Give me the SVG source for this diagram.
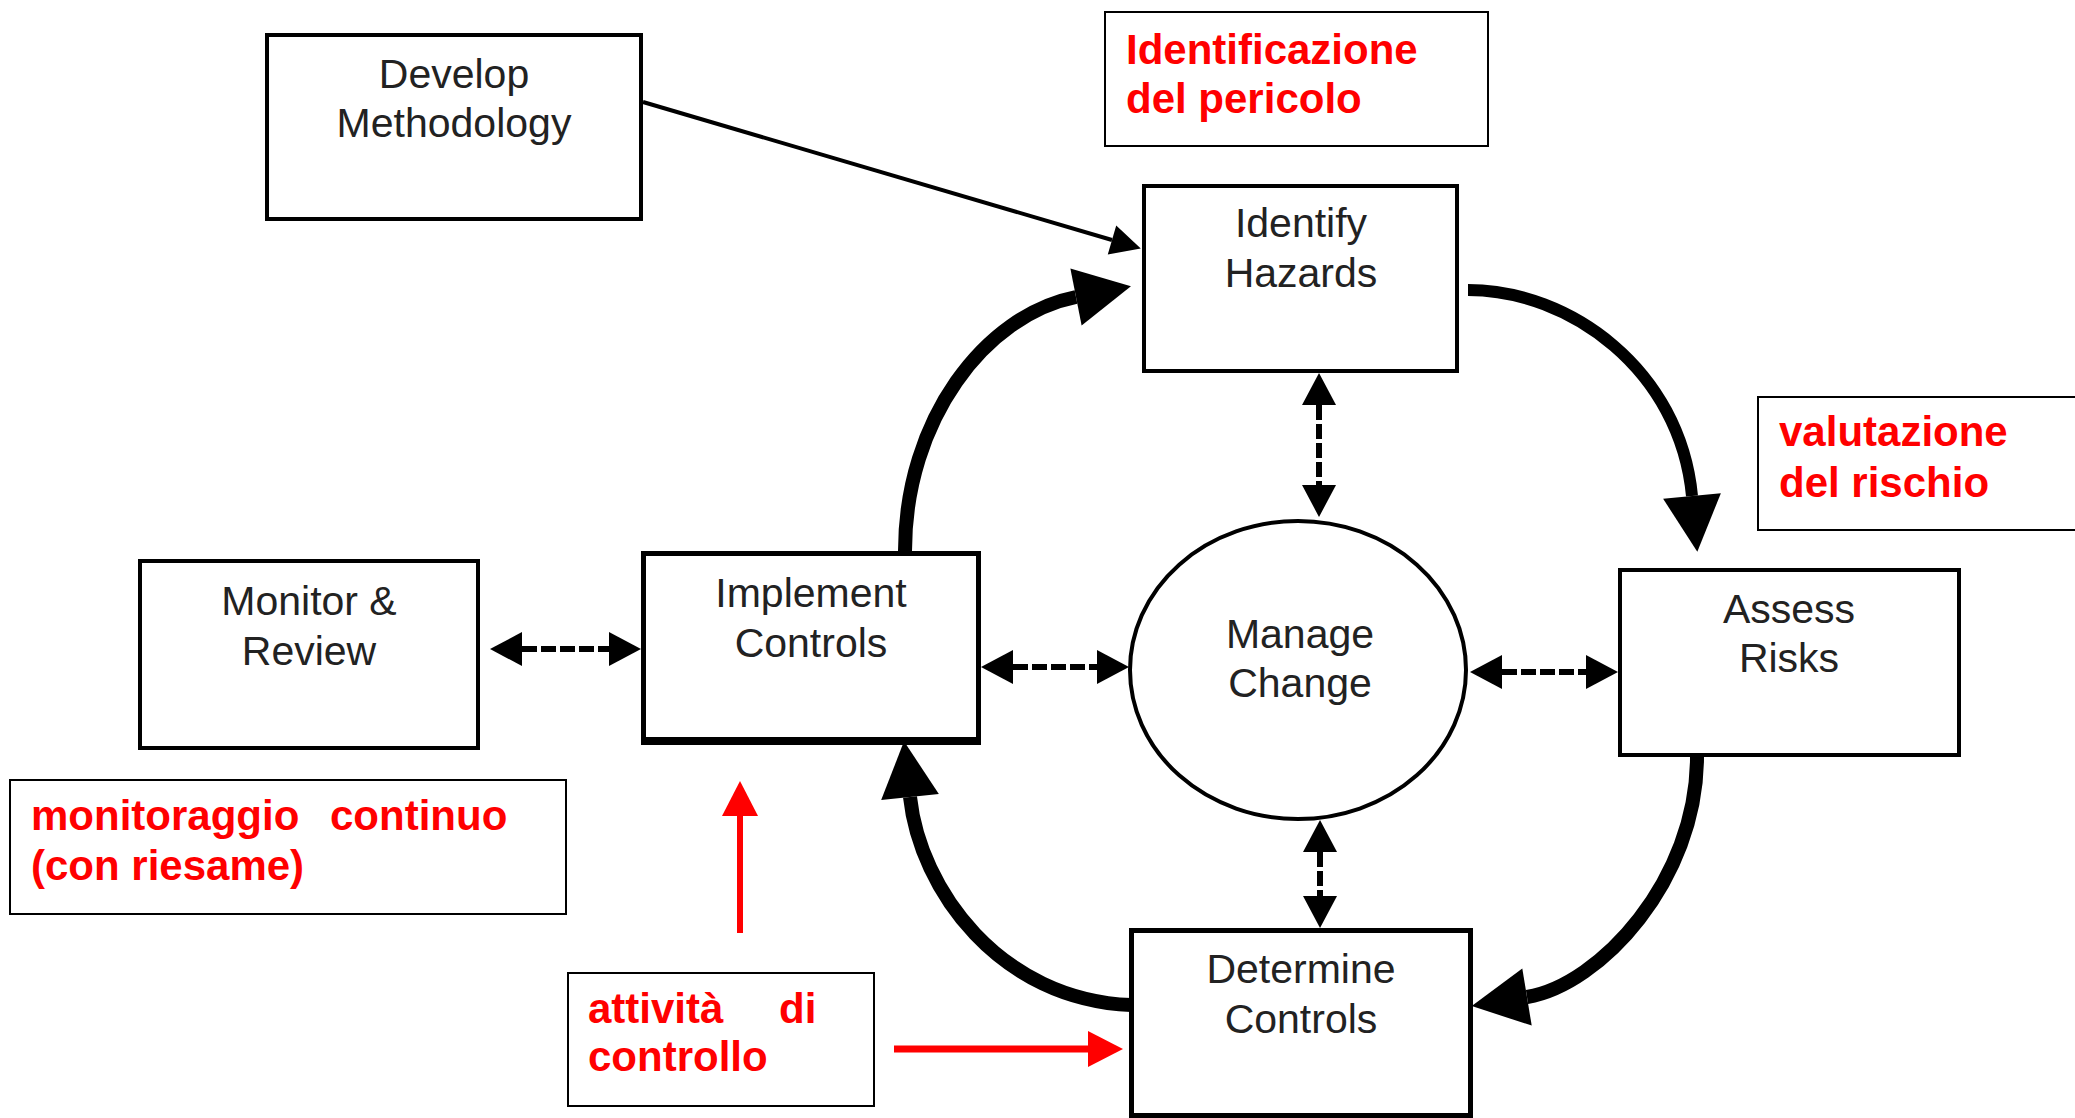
<svg xmlns="http://www.w3.org/2000/svg" width="2075" height="1118" viewBox="0 0 2075 1118">
  <style>
    .box { fill: #ffffff; stroke: #000000; stroke-width: 4; }
    .note { fill: #ffffff; stroke: #000000; stroke-width: 2; }
    .lbl { font-family: "Liberation Sans", Arial, sans-serif; font-size: 41px; fill: #222222; text-anchor: middle; }
    .red { font-family: "Liberation Sans", Arial, sans-serif; font-size: 42px; font-weight: bold; fill: #ff0000; }
    .flow { fill: none; stroke: #000000; stroke-width: 14; }
    .dash { fill: none; stroke: #000000; stroke-width: 6; stroke-dasharray: 15 4; }
    .thin { fill: none; stroke: #000000; stroke-width: 4; }
    .redline { fill: none; stroke: #ff0000; stroke-width: 7; }
  </style>
  <defs>
    <marker id="bigHead" markerUnits="userSpaceOnUse" viewBox="0 0 56 58" markerWidth="56" markerHeight="58" refX="0" refY="29" orient="auto" overflow="visible">
      <path d="M0,0 L56,29 L0,58 Z" fill="#000000"/>
    </marker>
    <marker id="dashHead" markerUnits="userSpaceOnUse" viewBox="0 0 32 34" markerWidth="32" markerHeight="34" refX="0" refY="17" orient="auto-start-reverse" overflow="visible">
      <path d="M0,0 L32,17 L0,34 Z" fill="#000000"/>
    </marker>
    <marker id="thinHead" markerUnits="userSpaceOnUse" viewBox="0 0 30 30" markerWidth="30" markerHeight="30" refX="0" refY="15" orient="auto" overflow="visible">
      <path d="M0,0 L30,15 L0,30 Z" fill="#000000"/>
    </marker>
    <marker id="redHead" markerUnits="userSpaceOnUse" viewBox="0 0 35 36" markerWidth="35" markerHeight="36" refX="0" refY="18" orient="auto" overflow="visible">
      <path d="M0,0 L35,18 L0,36 Z" fill="#ff0000"/>
    </marker>
  </defs>

  <rect width="2075" height="1118" fill="#ffffff"/>

  <!-- process nodes -->
  <g id="develop-methodology">
    <rect class="box" x="267" y="35" width="374" height="184"/>
    <text class="lbl" x="454" y="88">Develop</text>
    <text class="lbl" x="454" y="137">Methodology</text>
  </g>

  <g id="identify-hazards">
    <rect class="box" x="1144" y="186" width="313" height="185"/>
    <text class="lbl" x="1301" y="237">Identify</text>
    <text class="lbl" x="1301" y="287">Hazards</text>
  </g>

  <g id="assess-risks">
    <rect class="box" x="1620" y="570" width="339" height="185"/>
    <text class="lbl" x="1789" y="623">Assess</text>
    <text class="lbl" x="1789" y="672">Risks</text>
  </g>

  <g id="determine-controls">
    <rect class="box" x="1131.5" y="930.5" width="339" height="185" style="stroke-width:5"/>
    <text class="lbl" x="1301" y="983">Determine</text>
    <text class="lbl" x="1301" y="1033">Controls</text>
  </g>

  <g id="implement-controls">
    <rect class="box" x="643.5" y="553.5" width="335" height="187" style="stroke-width:5"/>
    <line x1="641" y1="741" x2="981" y2="741" stroke="#000000" stroke-width="8"/>
    <text class="lbl" x="811" y="607">Implement</text>
    <text class="lbl" x="811" y="657">Controls</text>
  </g>

  <g id="monitor-review">
    <rect class="box" x="140" y="561" width="338" height="187"/>
    <text class="lbl" x="309" y="615">Monitor &amp;</text>
    <text class="lbl" x="309" y="665">Review</text>
  </g>

  <g id="manage-change">
    <ellipse class="box" cx="1298" cy="670" rx="168" ry="149"/>
    <text class="lbl" x="1300" y="648">Manage</text>
    <text class="lbl" x="1300" y="697">Change</text>
  </g>

  <!-- Italian annotation boxes -->
  <g id="note-identificazione">
    <rect class="note" x="1105" y="12" width="383" height="134"/>
    <text class="red" x="1126" y="64">Identificazione</text>
    <text class="red" x="1126" y="113">del pericolo</text>
  </g>

  <g id="note-valutazione">
    <rect class="note" x="1758" y="397" width="330" height="133"/>
    <text class="red" x="1779" y="446">valutazione</text>
    <text class="red" x="1779" y="497">del rischio</text>
  </g>

  <g id="note-monitoraggio">
    <rect class="note" x="10" y="780" width="556" height="134"/>
    <text class="red" y="830"><tspan x="31">monitoraggio</tspan><tspan x="330">continuo</tspan></text>
    <text class="red" x="31" y="880">(con riesame)</text>
  </g>

  <g id="note-attivita">
    <rect class="note" x="568" y="973" width="306" height="133"/>
    <text class="red" y="1023"><tspan x="588">attività</tspan><tspan x="779">di</tspan></text>
    <text class="red" x="588" y="1071">controllo</text>
  </g>

  <!-- connectors -->
  <g id="connectors">
    <!-- main cycle -->
    <path class="flow" style="stroke-width:12" d="M1468,290 C1570,290 1680,370 1692,496" marker-end="url(#bigHead)"/>
    <path class="flow" d="M1697,757 C1697,880 1600,985 1527,997" marker-end="url(#bigHead)"/>
    <path class="flow" d="M1131,1005 C1000,1000 920,890 910,797" marker-end="url(#bigHead)"/>
    <path class="flow" d="M905,551 C905,420 985,315 1076,297" marker-end="url(#bigHead)"/>

    <!-- methodology input -->
    <line class="thin" x1="643" y1="102" x2="1112" y2="240" marker-end="url(#thinHead)"/>

    <!-- two-way links with Manage Change and Monitor & Review -->
    <line class="dash" x1="522" y1="649" x2="609" y2="649" marker-start="url(#dashHead)" marker-end="url(#dashHead)"/>
    <line class="dash" x1="1013" y1="667" x2="1097" y2="667" marker-start="url(#dashHead)" marker-end="url(#dashHead)"/>
    <line class="dash" x1="1502" y1="672" x2="1586" y2="672" marker-start="url(#dashHead)" marker-end="url(#dashHead)"/>
    <line class="dash" x1="1319" y1="405" x2="1319" y2="485" marker-start="url(#dashHead)" marker-end="url(#dashHead)"/>
    <line class="dash" x1="1320" y1="852" x2="1320" y2="896" marker-start="url(#dashHead)" marker-end="url(#dashHead)"/>

    <!-- red control arrows -->
    <line class="redline" style="stroke-width:6" x1="740" y1="933" x2="740" y2="816" marker-end="url(#redHead)"/>
    <line class="redline" x1="894" y1="1049" x2="1088" y2="1049" marker-end="url(#redHead)"/>
  </g>
</svg>
